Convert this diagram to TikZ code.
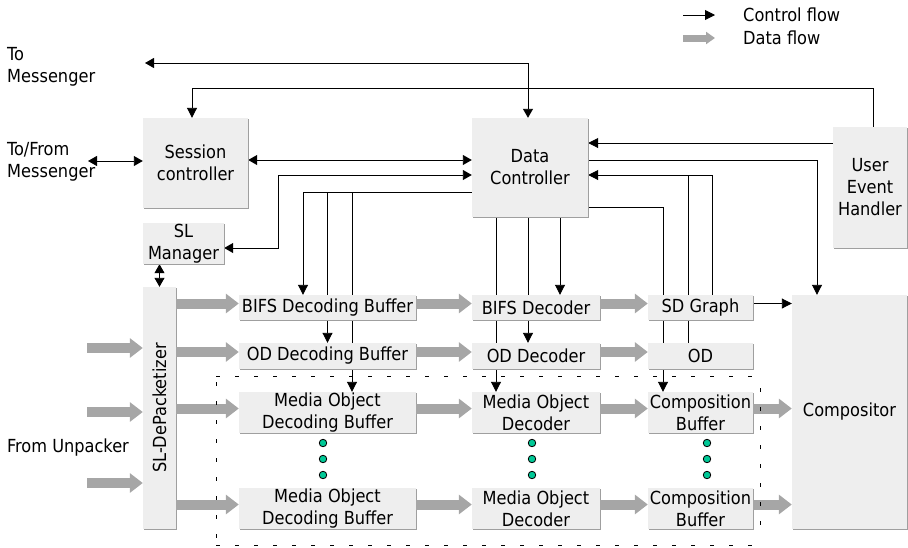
\documentclass[tikz,border=0pt]{standalone}
\usepackage{fontspec}
\setmainfont{DejaVu Sans Condensed}
\usetikzlibrary{arrows.meta,shadows}
\definecolor{boxgray}{RGB}{238,238,238}
\definecolor{flowgray}{RGB}{166,166,166}
\definecolor{dotgreen}{RGB}{0,200,150}
\pgfdeclarelayer{bg}
\pgfsetlayers{bg,main}

\begin{document}
\begin{tikzpicture}[
	x=1pt, y=-1pt,
	font=\fontsize{18}{22}\selectfont,
	box/.style={fill=boxgray, inner sep=0pt, align=center,
		drop shadow={shadow xshift=1pt, shadow yshift=-1pt, fill=gray!75, opacity=1}},
	colA/.style={box, minimum width=177pt},
	colB/.style={box, minimum width=128pt},
	colC/.style={box, minimum width=105pt},
	thin row/.style={minimum height=25pt},
	thick row/.style={minimum height=41pt},
	ctrlline/.style={line width=0.9pt},
	ctrl/.style={ctrlline, -{Triangle[length=10pt,width=10pt]}},
	ctrlboth/.style={ctrlline, {Triangle[length=9pt,width=10pt]}-{Triangle[length=9pt,width=10pt]}},
	data/.style={draw=flowgray, line width=10pt, -{Triangle[length=13pt,width=19pt]}},
	dot/.style={circle, fill=dotgreen, draw=black, line width=0.8pt, inner sep=0pt, minimum size=7.5pt},
	lbl/.style={inner sep=0pt, align=left, anchor=west},
	frame/.style={line width=0.8pt, dash pattern=on 4pt off 15pt}
	]
	
	\useasboundingbox (0,0) rectangle (908,547);
	
	% blocks
	\node[box, minimum width=105pt, minimum height=90pt] (sess) at (195.5,163) {Session\\controller};
	\node[box, minimum width=116pt, minimum height=99pt] (dc) at (530,167.5) {Data\\Controller};
	\node[box, minimum width=74pt, minimum height=121pt] (ueh) at (870,187.5) {User\\Event\\Handler};
	\node[box, minimum width=81pt, minimum height=41pt] (slm) at (183.5,243.5) {SL\\Manager};
	\node[box, minimum width=33pt, minimum height=242pt] (sldp) at (159.5,408) {};
	\node[rotate=90, inner sep=0pt] (sldptxt) at (sldp) {SL-DePacketizer};
	\node[box, minimum width=115pt, minimum height=234pt] (comp) at (849.5,412) {Compositor};
	
	\node[colA, thin row] (bdb) at (327.5,307.5) {BIFS Decoding Buffer};
	\node[colB, thin row] (bd) at (536,307.5) {BIFS Decoder};
	\node[colC, thin row] (sdg) at (700.5,307.5) {SD Graph};
	\node[colA, minimum height=26pt] (odb) at (327.5,356) {OD Decoding Buffer};
	\node[colB, minimum height=26pt] (odd) at (536,356) {OD Decoder};
	\node[colC, minimum height=26pt] (od) at (700.5,356) {OD};
	\node[colA, thick row] (mdb1) at (327.5,412.5) {Media Object\\Decoding Buffer};
	\node[colB, thick row] (mdo1) at (536,412.5) {Media Object\\Decoder};
	\node[colC, thick row] (cb1) at (700.5,412.5) {Composition\\Buffer};
	\node[colA, thick row] (mdb2) at (327.5,508.5) {Media Object\\Decoding Buffer};
	\node[colB, thick row] (mdo2) at (536,508.5) {Media Object\\Decoder};
	\node[colC, thick row] (cb2) at (700.5,508.5) {Composition\\Buffer};
	
	\foreach \x in {323,532,707}{
		\foreach \y in {443,459,475}{
			\node[dot] (dot-\x-\y) at (\x,\y) {};
		}
	}
	
	% outside labels
	\node[lbl] (tomsg) at (7,67) {To\\Messenger};
	\node[lbl] (tfmsg) at (7,162) {To/From\\Messenger};
	\node[lbl] (unpk) at (7,448) {From Unpacker};
	\node[lbl] (ctltxt) at (743,15) {Control flow};
	\node[lbl] (dattxt) at (743,38) {Data flow};
	
	\coordinate (tip1) at (145,63);
	\coordinate (tip2) at (88,161);
	\coordinate (in1) at (87,348);
	\coordinate (in2) at (87,412);
	\coordinate (in3) at (87,483);
	\coordinate (lgA) at (683,15);
	\coordinate (lgB) at (715,15);
	\coordinate (lgC) at (683,38);
	\coordinate (lgD) at (715,38);
	
	% bus levels
	\coordinate (lv1) at (0,63);
	\coordinate (lv2) at (0,88);
	\coordinate (lv3) at (0,143);
	\coordinate (lv4) at (0,160);
	\coordinate (lv5) at (0,175);
	\coordinate (lv6) at (0,192);
	\coordinate (lv7) at (0,207);
	
	% control flow
	\begin{pgfonlayer}{bg}
		\draw[ctrlboth] (tip1) -| ([xshift=-2pt]dc.north);
		\draw[ctrl] ([xshift=3pt]ueh.north) -- ([xshift=3pt]ueh.north |- lv2) -| ([xshift=-3.5pt]sess.north);
		\draw[ctrlboth] (tip2) -- (sess.west |- tip2);
		\draw[ctrlboth] (sess.east |- lv4) -- (dc.west |- lv4);
		\draw[ctrlboth] ([yshift=-4.5pt]slm.east) -- ++(54,0) |- (dc.west |- lv5);
		\draw[ctrlboth] (slm.south -| sldp.north) -- (sldp.north);
		
		\draw[ctrl] (dc.west |- lv6) -| ([xshift=-24.5pt]bdb.north);
		\draw[ctrl] (odb.north |- lv6) -- (odb.north);
		\draw[ctrl] ([xshift=24.5pt]mdb1.north |- lv6) -- ([xshift=24.5pt]mdb1.north);
		
		\draw[ctrl] ([xshift=-34pt]dc.south) -- ([xshift=-40pt]mdo1.north);
		\draw[ctrl] ([xshift=-2pt]dc.south) -- ([xshift=-8pt]odd.north);
		\draw[ctrl] ([xshift=30pt]dc.south) -- ([xshift=24pt]bd.north);
		
		\draw[ctrl] (ueh.west |- lv3) -- (dc.east |- lv3);
		\draw[ctrl] (dc.east |- lv4) -| ([xshift=-32.5pt]comp.north);
		\draw[ctrl] ([xshift=11.5pt]sdg.north) |- (dc.east |- lv5);
		\draw[ctrlline] ([xshift=-12.5pt]od.north) -- ([xshift=-12.5pt]od.north |- lv5);
		\draw[ctrl] (dc.east |- lv7) -| ([xshift=-37.5pt]cb1.north);
		\draw[ctrl] ([yshift=4pt]sdg.east) -- ([yshift=4pt]comp.west |- sdg.east);
	\end{pgfonlayer}
	
	% data flow
	\foreach \b in {bdb,odb,mdb1,mdb2}{
		\draw[data] ([yshift=4pt]sldp.east |- \b.west) -- ([yshift=4pt]\b.west);
	}
	\foreach \a/\b in {bdb/bd,bd/sdg,odb/odd,odd/od,mdb1/mdo1,mdo1/cb1,mdb2/mdo2,mdo2/cb2}{
		\draw[data] ([yshift=4pt]\a.east) -- ([yshift=4pt]\b.west);
	}
	\foreach \a in {cb1,cb2}{
		\draw[data] ([yshift=4pt]\a.east) -- ([yshift=4pt]comp.west |- \a.east);
	}
	\foreach \i in {1,2,3}{
		\draw[data] (in\i) -- (sldp.west |- in\i);
	}
	
	% legend
	\draw[ctrl] (lgA) -- (lgB);
	\draw[draw=flowgray, line width=7pt, -{Triangle[length=9pt,width=12pt]}] (lgC) -- (lgD);
	
	% dashed frame round the media objects
	\draw[frame] (216,376) -- (757,376);
	\draw[frame] (216,545) -- (757,545);
	\draw[frame] (216,382) -- (216,540);
	\draw[frame] (760,388) -- (760,530);
\end{tikzpicture}
\end{document}
